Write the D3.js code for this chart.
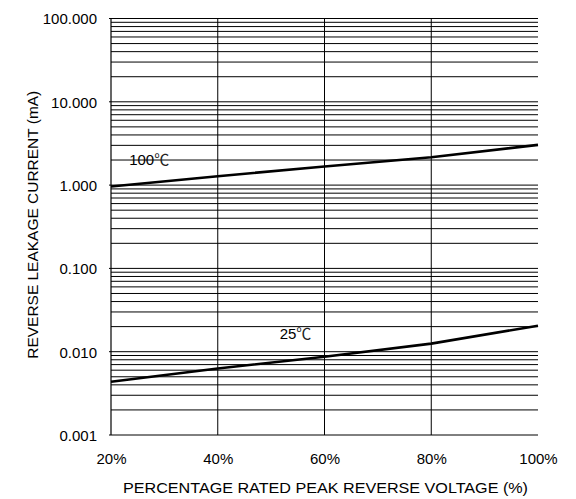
<!DOCTYPE html>
<html><head><meta charset="utf-8">
<script src="https://cdn.jsdelivr.net/npm/d3@7"></script>
<style>body{margin:0;background:#fff}svg{display:block}text{font-family:Arial,"Liberation Sans",sans-serif;fill:#000}</style>
</head><body>
<script>
const voltagePct = [20, 40, 60, 80, 100];
const current100C = [0.96, 1.28, 1.67, 2.16, 3.04];
const current25C = [0.00436, 0.0063, 0.0087, 0.0125, 0.0205];
const xTickLabels = ["20%", "40%", "60%", "80%", "100%"];
const yTickValues = [0.001, 0.01, 0.1, 1, 10, 100];
const yTickLabels = ["0.001", "0.010", "0.100", "1.000", "10.000", "100.000"];
const seriesNums = ["100", "25"];
const degC = "\u2103";
const xTitle = "PERCENTAGE RATED PEAK REVERSE VOLTAGE (%)";
const yTitle = "REVERSE LEAKAGE CURRENT (mA)";

const W = 576, H = 499;
const m = {l: 111, r: 538, t: 18.5, b: 435};
const svg = d3.select("body").append("svg").attr("width", W).attr("height", H);
const x = d3.scaleLinear().domain([20, 100]).range([m.l, m.r]);
const y = d3.scaleLog().domain([0.001, 100]).range([m.b, m.t]);

// minor + major horizontal grid
const hVals = [];
for (let e = -3; e < 2; e++) for (let k = 1; k <= 9; k++) hVals.push(k * Math.pow(10, e));
hVals.push(100);
const g = svg.append("g");
g.selectAll("line.h").data(hVals).enter().append("line")
  .attr("x1", m.l).attr("x2", m.r)
  .attr("y1", d => y(d)).attr("y2", d => y(d))
  .attr("stroke", "#000").attr("stroke-width", 1);
// vertical grid
g.selectAll("line.v").data(voltagePct.slice(0, 4)).enter().append("line")
  .attr("x1", d => x(d)).attr("x2", d => x(d))
  .attr("y1", m.t).attr("y2", m.b)
  .attr("stroke", "#000").attr("stroke-width", d => d === 20 ? 1.2 : 1);

// axes labels via d3 axes
const xAxis = d3.axisBottom(x).tickValues(voltagePct).tickSize(0).tickPadding(0)
  .tickFormat((d, i) => xTickLabels[i]);
const gx = svg.append("g").attr("transform", `translate(0,${m.b + 29})`).call(xAxis);
gx.select(".domain").remove();
gx.selectAll("text").attr("font-size", 15).attr("dy", 0).attr("y", 0);

const yAxis = d3.axisLeft(y).tickValues(yTickValues).tickSize(0).tickPadding(0)
  .tickFormat((d, i) => yTickLabels[i]);
const gy = svg.append("g").attr("transform", `translate(${m.l - 14},0)`).call(yAxis);
gy.select(".domain").remove();
gy.selectAll("text").attr("font-size", 15).attr("x", 0).attr("dy", "0.36em");

// small ticks left at decades
svg.selectAll("line.t").data(yTickValues).enter().append("line")
  .attr("x1", m.l - 2).attr("x2", m.l).attr("y1", d => y(d)).attr("y2", d => y(d))
  .attr("stroke", "#000").attr("stroke-width", 1);

// titles
svg.append("text").attr("x", (m.l + m.r) / 2 + 1).attr("y", 493).attr("text-anchor", "middle")
  .attr("font-size", 15).attr("textLength", 405).attr("lengthAdjust", "spacingAndGlyphs").text(xTitle);
svg.append("text").attr("transform", `translate(38,${(m.t + m.b) / 2 - 2}) rotate(-90)`)
  .attr("text-anchor", "middle").attr("font-size", 14.5).attr("textLength", 268)
  .attr("lengthAdjust", "spacingAndGlyphs").text(yTitle);

// curves
const line = d3.line().x(d => x(d[0])).y(d => y(d[1]));
[current100C, current25C].forEach(s => {
  svg.append("path").datum(voltagePct.map((v, i) => [v, s[i]]))
    .attr("d", line).attr("fill", "none").attr("stroke", "#000").attr("stroke-width", 2.6);
});

// series labels
function label(px, py, num) {
  const t = svg.append("text").attr("x", px).attr("y", py).attr("font-size", 15);
  t.append("tspan").text(num);
  t.append("tspan").attr("font-family", "'Noto Sans CJK SC'").attr("font-size", 15)
    .attr("fill", "#222").text(degC);
}
label(x(23.4), y(1.75), seriesNums[0]);
label(x(51.6), y(0.0144), seriesNums[1]);
</script>
</body></html>
